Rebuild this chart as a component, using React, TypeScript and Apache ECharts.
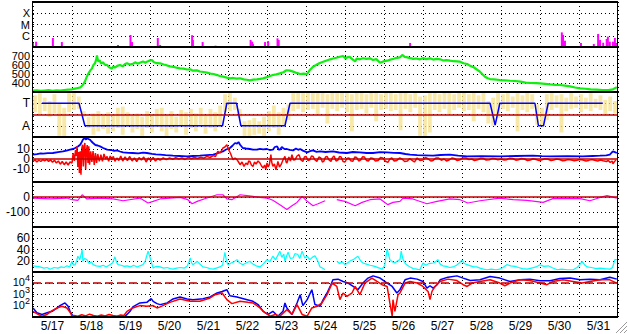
import React, { useEffect, useRef } from 'react';
import * as echarts from 'echarts';

// ---------- DATA ----------
const dayLabels = ['5/17', '5/18', '5/19', '5/20', '5/21', '5/22', '5/23', '5/24', '5/25', '5/26', '5/27', '5/28', '5/29', '5/30', '5/31'];
const xrayClassLabels: Record<number, string> = { 1: 'C', 2: 'M', 3: 'X' };
const speedTickLabels = [400, 500, 600, 700];
const bzTickLabels = [-10, 0, 10];
const dstTickLabels = [0, -100];
const kpTickLabels = [20, 40, 60];
const fluxTickExponents = [2, 3, 4];
const polarityLabels: Record<number, string> = { 1: 'T', [-1]: 'A' };

// X-ray flux, decades above 1e-7 W/m2 (1 = C class)
const xrayEvents = [
  [0.0, 0.36], [0.08, 0.47], [0.51, 0.8], [0.74, 0.44], [2.18, 0.18], [2.5, 1.07], [2.54, 0.44], [3.2, 0.8], [3.26, 0.18],
  [3.9, 0.09], [4.08, 1.05], [4.1, 0.62], [4.35, 0.44], [4.68, 0.12], [5.25, 0.09], [5.58, 0.62], [5.62, 0.47], [5.64, 0.27],
  [5.95, 0.44], [6.03, 0.53], [6.27, 0.77], [6.3, 0.62], [9.67, 0.36], [13.56, 1.3], [13.59, 1.07], [13.64, 0.56], [14.05, 0.36],
  [14.38, 0.27], [14.49, 1.16], [14.54, 0.62], [14.62, 0.38], [14.71, 0.71], [14.74, 0.92], [14.79, 0.47], [14.87, 0.47],
  [14.92, 0.8], [14.95, 0.36],
];

// Solar wind speed (km/s)
const windSpeed = [
  [0, 315], [0.1, 318], [0.2, 312], [0.3, 316], [0.4, 320], [0.5, 314], [0.6, 318], [0.7, 315], [0.8, 322], [0.9, 326], [1.0, 330],
  [1.08, 338], [1.15, 345], [1.22, 352], [1.28, 380], [1.33, 415], [1.38, 470], [1.42, 505], [1.47, 540], [1.51, 560], [1.55, 600],
  [1.59, 620], [1.62, 660], [1.64, 705], [1.67, 640], [1.71, 650], [1.75, 615], [1.79, 630], [1.84, 605], [1.9, 600], [1.95, 575],
  [2.02, 560], [2.06, 585], [2.1, 570], [2.16, 590], [2.23, 600], [2.3, 585], [2.36, 610], [2.41, 620], [2.48, 605], [2.56, 612],
  [2.62, 630], [2.68, 615], [2.74, 626], [2.82, 640], [2.88, 625], [2.92, 637], [2.98, 648], [3.05, 655], [3.1, 630], [3.18, 620],
  [3.26, 619], [3.35, 605], [3.42, 598], [3.51, 585], [3.6, 580], [3.68, 570], [3.77, 563], [3.86, 560], [3.95, 550], [4.03, 552],
  [4.1, 537], [4.2, 540], [4.28, 528], [4.37, 522], [4.46, 515], [4.55, 505], [4.63, 500], [4.72, 488], [4.79, 478], [4.88, 470],
  [4.97, 460], [5.05, 452], [5.13, 456], [5.22, 448], [5.31, 452], [5.4, 440], [5.48, 436], [5.56, 430], [5.65, 438], [5.74, 441],
  [5.82, 446], [5.9, 452], [5.98, 462], [6.06, 475], [6.15, 489], [6.24, 496], [6.33, 507], [6.42, 520], [6.5, 542], [6.59, 537],
  [6.67, 526], [6.76, 512], [6.85, 500], [6.94, 505], [7.03, 500], [7.1, 545], [7.18, 581], [7.26, 600], [7.34, 620], [7.44, 637],
  [7.53, 650], [7.62, 663], [7.7, 672], [7.78, 680], [7.87, 692], [7.95, 700], [8.02, 670], [8.05, 685], [8.12, 690], [8.2, 660],
  [8.26, 640], [8.3, 672], [8.38, 663], [8.46, 675], [8.55, 668], [8.64, 674], [8.72, 656], [8.8, 665], [8.9, 626], [8.98, 640],
  [9.08, 648], [9.16, 660], [9.25, 670], [9.33, 680], [9.41, 685], [9.47, 712], [9.53, 690], [9.6, 685], [9.67, 676], [9.75, 668],
  [9.83, 672], [9.92, 663], [10.0, 676], [10.08, 665], [10.18, 674], [10.26, 660], [10.35, 668], [10.44, 663], [10.52, 650],
  [10.6, 655], [10.69, 648], [10.78, 642], [10.87, 640], [10.95, 637], [11.04, 620], [11.13, 611], [11.21, 590], [11.3, 575],
  [11.38, 550], [11.46, 526], [11.53, 495], [11.59, 470], [11.66, 452], [11.72, 444], [11.82, 440], [11.97, 433], [12.1, 430],
  [12.23, 425], [12.36, 422], [12.5, 415], [12.63, 404], [12.76, 400], [12.9, 398], [13.0, 396], [13.13, 390], [13.26, 384],
  [13.4, 380], [13.51, 378], [13.64, 370], [13.77, 362], [13.9, 350], [14.03, 341], [14.16, 336], [14.3, 330], [14.45, 326],
  [14.6, 322], [14.75, 320], [14.87, 330], [14.97, 352],
];

// IMF polarity raw scatter: [day, low, high] (T = +1, A = -1)
const polarityScatter = [
  [0.0, 0.2, 1.7], [0.125, 0.0, 1.9], [0.25, 0.3, 1.5], [0.375, -0.2, 1.2], [0.5, 0.1, 1.8], [0.625, -1.9, 1.0], [0.75, -2.0, 0.6], [0.875, 0.2, 1.9],
  [1.0, 0.4, 1.9], [1.125, 0.5, 1.6], [1.25, -0.2, 0.3], [1.375, -1.2, -0.2], [1.5, -1.8, 0.1], [1.625, -1.5, 0.3], [1.75, -1.3, -0.1], [1.875, -1.7, 0.2],
  [2.0, -1.5, 0.0], [2.125, -1.2, 0.6], [2.25, -1.8, 0.7], [2.375, -1.0, 0.2], [2.5, -1.6, -0.1], [2.625, -1.3, 0.1], [2.75, -1.9, -0.2], [2.875, -1.2, 0.3],
  [3.0, -1.6, 0.0], [3.125, -1.1, 0.5], [3.25, -1.5, 0.6], [3.375, -1.9, -0.1], [3.5, -1.3, 0.3], [3.625, -1.6, -0.2], [3.75, -1.0, 0.4], [3.875, -1.8, 0.2],
  [4.0, -1.2, 0.5], [4.125, -1.5, 0.1], [4.25, -0.9, 0.6], [4.375, -1.7, -0.1], [4.5, -1.2, 0.5], [4.625, -1.5, 0.2], [4.75, -1.0, 0.8], [4.875, 0.2, 1.8],
  [5.0, 0.3, 1.9], [5.125, 0.4, 1.5], [5.25, -0.3, 0.5], [5.375, -1.9, -0.6], [5.5, -2.0, -0.5], [5.625, -1.8, -0.3], [5.75, -1.7, -0.6], [5.875, -1.9, -0.2],
  [6.0, -1.5, 0.3], [6.125, -1.2, 0.8], [6.25, -1.8, 0.2], [6.375, -1.0, 0.6], [6.5, -0.5, 0.9], [6.625, 0.3, 1.9], [6.75, 0.5, 2.0], [6.875, 0.2, 1.9],
  [7.0, 0.4, 2.0], [7.125, 0.5, 1.9], [7.25, 0.0, 2.0], [7.375, 0.6, 1.9], [7.5, -0.8, 1.8], [7.625, 0.5, 2.0], [7.75, 0.3, 1.9], [7.875, 0.6, 2.0],
  [8.0, 0.2, 1.9], [8.125, -1.5, 1.8], [8.25, 0.4, 2.0], [8.375, 0.5, 1.9], [8.5, 0.1, 1.8], [8.625, 0.6, 2.0], [8.75, -0.6, 1.9], [8.875, 0.4, 1.8],
  [9.0, 0.5, 2.0], [9.125, 0.3, 1.9], [9.25, 0.4, 1.8], [9.375, -1.4, 1.9], [9.5, 0.5, 2.0], [9.625, 0.2, 1.8], [9.75, 0.6, 1.9], [9.875, -1.9, 1.6],
  [10.0, -2.0, 1.7], [10.125, -1.6, 1.9], [10.25, 0.4, 1.9], [10.375, 0.2, 1.8], [10.5, 0.5, 2.0], [10.625, 0.0, 1.9], [10.75, 0.4, 1.8], [10.875, 0.6, 1.9],
  [11.0, 0.3, 2.0], [11.125, 0.4, 1.8], [11.25, -0.6, 1.9], [11.375, 0.5, 1.7], [11.5, 0.2, 1.9], [11.625, -0.8, 1.2], [11.75, -1.0, 1.5], [11.875, -0.3, 1.9],
  [12.0, 0.5, 1.8], [12.125, 0.3, 1.9], [12.25, 0.6, 1.6], [12.375, -1.5, 1.9], [12.5, 0.4, 1.7], [12.625, 0.2, 2.0], [12.75, 0.5, 1.8], [12.875, -0.9, 0.9],
  [13.0, -1.0, 0.6], [13.125, -0.5, 1.8], [13.25, 0.4, 1.9], [13.375, 0.6, 1.7], [13.5, -1.6, 1.8], [13.625, 0.3, 1.5], [13.75, 0.5, 1.9], [13.875, 0.6, 1.6],
  [14.0, 0.2, 1.8], [14.125, 0.5, 1.5], [14.25, 0.3, 1.9], [14.375, 0.6, 1.4], [14.5, 0.4, 1.7], [14.625, 0.0, 1.3], [14.75, 0.3, 1.6], [14.875, 0.1, 1.2],
];

// IMF polarity (smoothed)
const polarity = [
  [0.23, 1], [1.18, 1], [1.33, -1], [4.86, -1], [4.97, 1], [5.22, 1], [5.33, -1], [6.46, -1], [6.59, 1], [11.72, 1],
  [11.85, -0.95], [11.97, 1], [12.87, 1], [12.96, -1], [13.09, -1], [13.21, 1], [14.61, 1],
];

// |B| total (nT)
const bt = [
  [0, 4.3], [0.1, 4.8], [0.2, 5.6], [0.26, 5.3], [0.38, 5.8], [0.51, 6], [0.64, 6.8], [0.77, 7.6], [0.86, 8.4], [0.95, 9.3], [1.03, 10],
  [1.08, 11], [1.15, 12.5], [1.21, 14.3], [1.25, 17], [1.28, 19.3], [1.32, 21], [1.36, 19.5], [1.38, 21], [1.42, 20], [1.46, 19.3],
  [1.5, 17.5], [1.54, 16], [1.6, 14], [1.66, 13.5], [1.72, 12.6], [1.8, 11], [1.9, 9.3], [2.0, 9], [2.08, 8.2], [2.15, 8.6], [2.23, 7.5],
  [2.31, 6.6], [2.45, 6.2], [2.56, 6], [2.7, 5.6], [2.82, 6.4], [2.92, 6], [3.05, 5.2], [3.15, 4.6], [3.26, 4.3], [3.4, 3.8], [3.59, 3.3],
  [3.75, 3.0], [3.95, 2.6], [4.1, 3.0], [4.28, 3.3], [4.45, 3.8], [4.62, 4.3], [4.75, 6], [4.87, 7.6], [4.95, 9.5], [5.05, 11], [5.12, 13.5],
  [5.18, 16], [5.23, 15.3], [5.27, 17], [5.31, 14.3], [5.38, 11], [5.46, 10.5], [5.56, 10], [5.64, 9.3], [5.74, 9.3], [5.82, 10.2],
  [5.9, 9.6], [6.0, 10], [6.07, 9], [6.15, 9.3], [6.2, 12], [6.26, 12.6], [6.3, 9.5], [6.33, 9.3], [6.38, 12], [6.41, 11], [6.46, 9.8],
  [6.51, 10], [6.58, 9.2], [6.67, 8.6], [6.74, 10.5], [6.8, 9.2], [6.85, 10], [6.92, 8.4], [7.03, 6.6], [7.1, 7.8], [7.18, 8.6], [7.27, 7.2],
  [7.36, 7.6], [7.5, 7.0], [7.69, 7.6], [7.85, 6.5], [8.05, 6], [8.2, 7.0], [8.38, 6.6], [8.55, 6.0], [8.72, 6], [8.9, 6.8], [9.08, 6.6],
  [9.25, 6.2], [9.41, 6], [9.55, 5.0], [9.67, 4.3], [9.85, 3.8], [10.05, 3.6], [10.26, 3.3], [10.45, 4.0], [10.69, 4.3], [10.9, 3.3],
  [11.13, 2.6], [11.5, 2.8], [11.97, 2.6], [12.4, 3.0], [12.82, 3.3], [13.05, 2.8], [13.26, 2.6], [13.7, 2.8], [14.1, 2.6], [14.35, 3.0],
  [14.54, 3.3], [14.7, 3.6], [14.79, 4.3], [14.84, 6.5], [14.87, 7.6], [14.92, 6.8], [14.97, 6],
];

// Bz (nT)
const bz = [
  [0, -2.4], [0.05, -0.7], [0.1, -3], [0.15, -1], [0.2, -2.5], [0.25, -0.7], [0.3, -1.8], [0.35, -0.5], [0.4, -2.4], [0.45, -0.8], [0.5, -3.2],
  [0.55, -1.2], [0.6, -4], [0.65, -2], [0.7, -5.2], [0.75, -2.5], [0.8, -5.7], [0.85, -3], [0.9, -6], [0.95, -2.8], [1.0, -4], [1.03, 6],
  [1.06, -2], [1.09, 9], [1.11, 3], [1.13, 12.6], [1.15, -8], [1.17, 7], [1.19, -14], [1.21, 7.6], [1.23, -15.7], [1.25, 10], [1.27, 14.3],
  [1.29, -7.4], [1.31, 12], [1.33, 16], [1.35, -10.7], [1.37, 8], [1.39, 14], [1.41, -4], [1.43, 12.6], [1.45, -5.7], [1.48, 7.6], [1.51, -3],
  [1.54, 8], [1.57, -6], [1.6, 6], [1.63, -4], [1.66, 5], [1.7, -2.4], [1.74, 4.3], [1.78, -2.4], [1.82, 5], [1.86, 0], [1.9, 2.6],
  [1.94, -2.4], [1.98, 3], [2.02, -1], [2.06, 2.6], [2.1, -2.4], [2.15, 1], [2.2, -1.5], [2.25, 3], [2.3, -2], [2.36, 2], [2.42, -1.5],
  [2.48, 2.5], [2.54, -2], [2.6, 1], [2.66, -2.6], [2.72, 1.5], [2.78, -1], [2.84, 2], [2.9, -3], [2.96, 1], [3.02, -1.5], [3.08, 1.5],
  [3.14, -2], [3.2, 0.5], [3.26, -1], [3.34, 1], [3.42, -0.7], [3.5, 1], [3.58, -0.3], [3.66, 1.2], [3.74, 0], [3.82, 1], [3.9, -0.5],
  [3.98, 1.6], [4.06, 0.2], [4.14, 1.5], [4.22, 0.5], [4.3, 1.8], [4.38, 0.8], [4.46, 2.6], [4.54, 1.5], [4.62, 3.5], [4.68, 2.5],
  [4.74, 7.6], [4.8, 6], [4.87, 11], [4.92, 12], [4.97, 14.3], [5.02, 9], [5.06, 6], [5.1, 2], [5.13, -0.7], [5.18, 1], [5.23, -0.7],
  [5.27, -3], [5.31, -5.7], [5.36, -3], [5.41, -7.4], [5.46, -4], [5.5, -5.7], [5.53, -2], [5.56, -2.4], [5.6, -6], [5.64, -7.4],
  [5.68, -3], [5.72, -5], [5.77, -2], [5.82, -4], [5.86, -7], [5.9, -9], [5.94, -6], [5.97, -10.7], [6.0, -4], [6.03, -8], [6.06, -5.7],
  [6.1, 4.3], [6.12, -3], [6.15, -7.4], [6.19, -5], [6.23, -10.7], [6.26, -6], [6.28, -2.4], [6.32, -8], [6.36, -5.7], [6.41, -1],
  [6.46, 2.6], [6.49, -3], [6.51, -4], [6.56, 2], [6.6, -2], [6.64, 4.3], [6.68, -1], [6.72, -0.7], [6.77, 3], [6.82, 4.3], [6.87, -1],
  [6.92, -2.4], [6.96, 2], [7.0, 2.6], [7.05, -1.5], [7.1, -0.7], [7.14, 3], [7.18, 2.6], [7.23, -1], [7.28, -2.4], [7.33, 2], [7.38, 1],
  [7.42, -3], [7.46, -2], [7.5, 2], [7.54, 2.6], [7.59, -1], [7.64, -2.4], [7.68, 1.5], [7.72, 3], [7.77, -2], [7.82, -1], [7.86, 2.5],
  [7.9, 2], [7.95, -2.5], [8.0, -3], [8.05, 0.5], [8.1, 1], [8.15, -1.8], [8.2, -2.4], [8.25, 2], [8.3, 1.5], [8.35, -2], [8.4, -1],
  [8.45, 2.2], [8.5, 2], [8.55, -1.5], [8.6, -2], [8.66, 1], [8.72, 0.5], [8.78, -2], [8.85, -1.5], [8.91, 1.5], [8.97, 1], [9.03, -2],
  [9.1, -3.4], [9.15, 0], [9.2, 1], [9.26, -2], [9.33, -1.4], [9.4, 1], [9.46, 0], [9.53, -2.5], [9.6, -2], [9.66, 0.5], [9.72, -1.4],
  [9.78, -3], [9.85, 1], [9.92, -1.5], [10.0, -1], [10.06, 1.5], [10.13, 0.3], [10.2, -2], [10.26, -1.4], [10.33, 1], [10.4, 1],
  [10.47, -1.2], [10.54, 0], [10.6, -2], [10.67, -1], [10.74, 1], [10.8, 0.5], [10.88, -1.5], [10.95, -0.7], [11.02, 1], [11.1, 1],
  [11.18, -0.5], [11.25, 0], [11.32, -1.5], [11.4, -0.7], [11.48, 0.8], [11.55, 0.5], [11.62, -1], [11.7, -0.7], [11.78, 0.6],
  [11.85, 0.3], [11.92, -0.8], [12.0, 0], [12.08, -1], [12.15, -0.7], [12.22, 0.8], [12.3, 0.5], [12.38, -1.2], [12.45, -0.7],
  [12.52, 0.5], [12.6, 0], [12.68, -1.5], [12.75, -1], [12.82, 0.2], [12.9, -0.5], [12.98, -1.6], [13.05, -0.7], [13.12, 0.3], [13.2, 0],
  [13.28, -1.5], [13.35, -1], [13.42, 0], [13.5, -0.5], [13.58, -1.8], [13.65, -1.4], [13.72, -0.5], [13.8, -1], [13.88, -1.8],
  [13.95, -1.2], [14.02, -0.5], [14.1, -1], [14.18, -2], [14.25, -1.4], [14.32, -0.6], [14.4, -1.2], [14.48, -2], [14.55, -1],
  [14.62, -1.8], [14.7, -2.5], [14.75, -1.5], [14.8, -3.4], [14.85, -2], [14.87, -4.7], [14.91, -2.5], [14.95, -1],
];

// Dst (nT)
const dst = [
  [0, -7], [0.44, -13], [0.87, -7], [1.0, -18], [1.15, -22], [1.26, 15], [1.38, -13], [1.72, -7], [2.05, -13], [2.31, -25], [2.74, -7],
  [2.95, -40], [3.08, -29], [3.26, -13], [3.77, -3], [3.97, -18], [4.08, -45], [4.21, -29], [4.46, -7], [4.72, 15], [4.87, 15],
  [4.97, -13], [5.1, -18], [5.31, 15], [5.49, 9], [5.64, 4], [5.82, -3], [6.0, -7], [6.15, -22], [6.33, -51], [6.51, -84], [6.64, -58],
  [6.77, -36], [6.9, 4], [7.03, -29], [7.18, -58], [7.31, -45], [7.49, -25], [7.6, '-'], [7.79, -18], [8.0, -29], [8.26, -58],
  [8.44, -36], [8.64, -18], [8.9, -13], [9.1, -51], [9.23, -36], [9.41, -29], [9.49, -7], [9.74, -13], [10.1, -45], [10.36, -29],
  [10.69, -13], [10.95, -18], [11.15, -40], [11.46, -25], [11.97, -7], [12.31, -18], [12.67, -22], [13.08, -36], [13.33, -11],
  [14.03, -11], [14.28, -25], [14.54, -3], [14.72, 9], [14.97, -7],
];

// Geomagnetic index (cyan)
const geoIndex = [
  [0, 11], [0.09, 10], [0.18, 9], [0.28, 7], [0.36, 8], [0.44, 5], [0.54, 8], [0.64, 7], [0.72, 9], [0.8, 8], [0.87, 11], [0.94, 9],
  [1.0, 19], [1.04, 12], [1.08, 13], [1.12, 20], [1.15, 28], [1.2, 22], [1.24, 33], [1.26, 40], [1.28, 19], [1.32, 24], [1.38, 22],
  [1.44, 15], [1.5, 18], [1.54, 13], [1.62, 11], [1.72, 10], [1.8, 12], [1.88, 9], [1.97, 13], [2.04, 16], [2.1, 27], [2.14, 18],
  [2.18, 13], [2.26, 12], [2.34, 10], [2.41, 11], [2.5, 9], [2.58, 12], [2.67, 9], [2.74, 11], [2.82, 13], [2.88, 20], [2.95, 37],
  [2.99, 28], [3.03, 19], [3.08, 7], [3.16, 10], [3.26, 9], [3.35, 7], [3.44, 8], [3.52, 6], [3.59, 5], [3.68, 7], [3.78, 8], [3.88, 7],
  [3.95, 10], [4.0, 18], [4.03, 25], [4.07, 16], [4.1, 13], [4.16, 16], [4.21, 19], [4.28, 14], [4.36, 9], [4.45, 8], [4.54, 6],
  [4.62, 5], [4.7, 7], [4.79, 9], [4.86, 12], [4.92, 35], [4.96, 20], [5.0, 13], [5.08, 16], [5.15, 18], [5.23, 22], [5.3, 16],
  [5.38, 13], [5.46, 16], [5.56, 19], [5.64, 14], [5.72, 11], [5.82, 9], [5.9, 14], [6.0, 22], [6.07, 18], [6.15, 28], [6.22, 22],
  [6.28, 30], [6.33, 37], [6.38, 26], [6.43, 32], [6.46, 19], [6.5, 28], [6.54, 35], [6.6, 24], [6.67, 25], [6.72, 33], [6.79, 31],
  [6.84, 24], [6.9, 37], [6.94, 30], [6.97, 25], [7.03, 28], [7.1, 22], [7.16, 26], [7.23, 29], [7.3, 20], [7.36, 9], [7.42, 7],
  [7.49, 4], [7.6, '-'], [7.79, 19], [7.86, 15], [7.93, 18], [8.0, 13], [8.08, 17], [8.14, 20], [8.21, 22], [8.27, 25], [8.33, 28],
  [8.4, 20], [8.46, 16], [8.55, 14], [8.64, 12], [8.72, 11], [8.8, 9], [8.88, 7], [8.95, 5], [9.02, 12], [9.08, 41], [9.12, 30],
  [9.15, 22], [9.22, 18], [9.28, 16], [9.35, 20], [9.41, 22], [9.44, 37], [9.49, 22], [9.56, 14], [9.62, 11], [9.67, 9], [9.75, 6],
  [9.84, 5], [9.92, 4], [10.0, 16], [10.08, 12], [10.15, 15], [10.26, 16], [10.32, 18], [10.38, 22], [10.44, 14], [10.51, 11],
  [10.6, 10], [10.68, 8], [10.77, 9], [10.86, 12], [10.93, 16], [11.0, 21], [11.06, 15], [11.13, 13], [11.22, 11], [11.3, 9],
  [11.38, 9], [11.46, 7], [11.55, 5], [11.64, 4], [11.75, 5], [11.87, 4], [11.97, 5], [12.05, 8], [12.15, 13], [12.25, 11], [12.36, 10],
  [12.45, 8], [12.55, 6], [12.67, 5], [12.78, 7], [12.9, 9], [13.0, 13], [13.1, 10], [13.21, 11], [13.3, 8], [13.44, 4], [13.55, 5],
  [13.7, 4], [13.85, 4], [13.95, 8], [14.03, 14], [14.08, 19], [14.14, 13], [14.21, 9], [14.32, 8], [14.44, 6], [14.54, 7], [14.66, 6],
  [14.79, 5], [14.86, 8], [14.92, 22], [14.97, 22],
];

// Particle flux, channel 1 (blue)
const fluxBlue = [
  [0, 72], [0.1, 28], [0.23, 20], [0.36, 28], [0.49, 37], [0.62, 72], [0.69, 115], [0.82, 195], [0.9, 100], [0.95, 37], [1.0, 20],
  [1.03, 14], [1.1, 13], [1.5, 12.5], [2.0, 13], [2.35, 13], [2.41, 20], [2.49, 37], [2.56, 89], [2.74, 195], [2.92, 219], [3.03, 457],
  [3.08, 269], [3.18, 170], [3.26, 140], [3.44, 195], [3.59, 427], [3.77, 631], [3.95, 427], [4.1, 372], [4.36, 457], [4.54, 631],
  [4.72, 1413], [4.85, 1905], [4.97, 2692], [5.05, 813], [5.23, 631], [5.49, 372], [5.64, 269], [5.77, 141], [5.9, 37], [6.03, 20],
  [6.15, 37], [6.28, 14], [6.41, 37], [6.46, 195], [6.51, 72], [6.64, 20], [6.77, 195], [6.85, 1000], [6.92, 115], [7.03, 372],
  [7.15, 2692], [7.23, 141], [7.36, 100], [7.44, 372], [7.54, 1413], [7.62, 5129], [7.69, 19055], [7.82, 21878], [7.95, 13804],
  [8.08, 10000], [8.21, 5129], [8.33, 2692], [8.46, 10000], [8.59, 26915], [8.72, 41687], [8.9, 26915], [9.08, 10000], [9.21, 5129],
  [9.33, 1413], [9.41, 2692], [9.54, 19055], [9.67, 26915], [9.85, 21878], [10.0, 13804], [10.1, 3715], [10.18, 5888], [10.26, 3715],
  [10.36, 7244], [10.44, 19055], [10.64, 32359], [10.87, 41687], [11.03, 26915], [11.21, 16596], [11.46, 19055], [11.72, 36308],
  [11.97, 26915], [12.23, 13804], [12.49, 19055], [12.74, 21878], [13.0, 15849], [13.26, 15849], [13.51, 25119], [13.77, 26915],
  [14.03, 19055], [14.28, 21878], [14.54, 19055], [14.79, 32359], [14.97, 21878],
];

// Particle flux, channel 2 (red)
const fluxRed = [
  [0, 37], [0.13, 20], [0.23, 14], [0.36, 20], [0.49, 43], [0.62, 72], [0.74, 100], [0.87, 72], [0.95, 31], [1.0, 14], [1.05, 16],
  [1.15, 14], [1.25, 19], [1.35, 15], [1.45, 21], [1.55, 16], [1.65, 14], [1.75, 18], [1.85, 15], [1.95, 20], [2.05, 16], [2.15, 14],
  [2.25, 18], [2.33, 16], [2.41, 37], [2.56, 72], [2.74, 115], [2.92, 100], [3.08, 115], [3.18, 72], [3.26, 90], [3.51, 219],
  [3.77, 427], [4.03, 269], [4.28, 269], [4.54, 525], [4.67, 1000], [4.85, 1413], [4.97, 372], [5.1, 170], [5.31, 269], [5.51, 219],
  [5.64, 195], [5.82, 72], [5.95, 28], [6.08, 14], [6.21, 20], [6.33, 14], [6.51, 52], [6.64, 20], [6.77, 141], [6.9, 20], [7.03, 14],
  [7.15, 72], [7.28, 100], [7.41, 195], [7.54, 1000], [7.67, 10000], [7.79, 5129], [7.87, 372], [7.95, 1413], [8.05, 724],
  [8.18, 1413], [8.26, 5129], [8.38, 1000], [8.51, 10000], [8.69, 26915], [8.82, 13804], [8.95, 7244], [9.08, 5129], [9.15, 195],
  [9.21, 14], [9.23, 372], [9.28, 37], [9.36, 1000], [9.41, 1413], [9.54, 10000], [9.67, 13804], [9.85, 10000], [10.0, 5129],
  [10.13, 1905], [10.18, 372], [10.23, 1905], [10.31, 5129], [10.44, 13804], [10.64, 21878], [10.87, 16596], [11.03, 7244],
  [11.13, 5129], [11.26, 10000], [11.46, 13804], [11.72, 19055], [11.97, 10000], [12.1, 5888], [12.23, 10000], [12.49, 19055],
  [12.74, 16596], [13.0, 10000], [13.18, 7244], [13.33, 13804], [13.59, 19055], [13.85, 13804], [14.08, 10000], [14.28, 13804],
  [14.54, 19055], [14.79, 19055], [14.97, 10000],
];

// ---------- LAYOUT ----------
const W = 628;
const H = 334;
const PLOT_L = 33;
const PLOT_R = 618;
const PLOT_T = 2;
const PANEL_H = 45;
const NPANEL = 7;
const FONT = "'Liberation Sans', Arial, Helvetica, sans-serif";

const dotted = { color: '#000', width: 1, type: [1, 3] as number[] };

function buildOption() {
  const grids = [];
  const xAxes: any[] = [];
  for (let i = 0; i < NPANEL; i++) {
    grids.push({ left: PLOT_L, top: PLOT_T + i * PANEL_H, width: PLOT_R - PLOT_L, height: PANEL_H, show: false });
    xAxes.push({
      type: 'value', gridIndex: i, min: 0, max: 15, interval: 1, position: i === NPANEL - 1 ? 'top' : 'bottom',
      axisLine: { show: false }, axisTick: { show: false }, axisLabel: { show: false },
      splitLine: { show: true, lineStyle: dotted },
    });
  }
  xAxes.push({
    type: 'value', gridIndex: NPANEL - 1, min: -0.5, max: 14.5, interval: 0.5, position: 'bottom',
    axisLine: { show: false }, axisTick: { show: false }, splitLine: { show: false },
    axisLabel: {
      show: true, color: '#000', fontSize: 12, fontFamily: FONT, margin: 3,
      formatter: (v: number) => (Number.isInteger(v) && v >= 0 && v < dayLabels.length ? dayLabels[v] : ''),
    },
  });

  const baseY = (i: number, extra: any) => ({
    gridIndex: i,
    axisLine: { show: false }, axisTick: { show: false },
    splitLine: { show: true, lineStyle: dotted },
    ...extra,
    axisLabel: { color: '#000', fontSize: 12, lineHeight: 9, fontFamily: FONT, margin: 3, ...(extra.axisLabel || {}) },
  });

  const yAxes = [
    baseY(0, { type: 'value', min: 0, max: 4, interval: 1, axisLabel: { fontSize: 11, formatter: (v: number) => xrayClassLabels[v] || '' } }),
    baseY(1, { type: 'value', min: 300, max: 800, interval: 100, axisLabel: { fontSize: 11, formatter: (v: number) => (speedTickLabels.includes(v) ? String(v) : '') } }),
    baseY(2, { type: 'value', min: -2, max: 2, interval: 1, axisLabel: { formatter: (v: number) => polarityLabels[v] || '' } }),
    baseY(3, { type: 'value', min: -23, max: 22, interval: 1, splitLine: { show: false }, axisLabel: { formatter: (v: number) => (bzTickLabels.includes(v) ? String(v) : '') } }),
    baseY(4, { type: 'value', min: -200, max: 100, interval: 100, axisLabel: { formatter: (v: number) => (dstTickLabels.includes(v) ? String(v) : '') } }),
    baseY(5, { type: 'value', min: 0, max: 80, interval: 20, axisLabel: { formatter: (v: number) => (kpTickLabels.includes(v) ? String(v) : '') } }),
    baseY(6, {
      type: 'log', min: 12, max: 90000, logBase: 10,
      axisLabel: {
        formatter: (v: number) => {
          const e = Math.round(Math.log10(v));
          if (Math.abs(Math.log10(v) - e) > 1e-6 || !fluxTickExponents.includes(e)) return '';
          return `{b|10}{s|${e}}`;
        },
        rich: {
          b: { fontSize: 11, lineHeight: 9, fontFamily: FONT, color: '#000', verticalAlign: 'bottom' },
          s: { fontSize: 9, lineHeight: 9, fontFamily: FONT, color: '#000', verticalAlign: 'bottom', padding: [0, 0, 5, 0] },
        },
      },
    }),
  ];

  const zeroLine = () => ({
    silent: true, symbol: 'none', animation: false, label: { show: false },
    lineStyle: { color: '#c00000', width: 1.5, type: 'solid' },
    data: [{ yAxis: 0 }],
  });

  const lineBase = { type: 'line', symbol: 'none', showSymbol: false, connectNulls: false, animation: false };

  const series: any[] = [
    { type: 'bar', name: 'X-ray', xAxisIndex: 0, yAxisIndex: 0, data: xrayEvents, barWidth: 2, itemStyle: { color: '#ff00ff' }, animation: false },
    { ...lineBase, name: 'Speed', xAxisIndex: 1, yAxisIndex: 1, data: windSpeed, lineStyle: { color: '#11ee11', width: 2.2 } },
    {
      type: 'custom', name: 'Polarity raw', xAxisIndex: 2, yAxisIndex: 2, data: polarityScatter,
      encode: { x: 0, y: [1, 2] }, animation: false,
      renderItem: (params: any, api: any) => {
        const d = api.value(0);
        const p1 = api.coord([d, api.value(2)]);
        const p2 = api.coord([d, api.value(1)]);
        const w = api.size([0.125, 0])[0];
        return {
          type: 'rect',
          shape: { x: p1[0], y: p1[1], width: w * 0.8, height: p2[1] - p1[1] },
          style: { fill: '#f6e28c', opacity: 0.75 },
        };
      },
    },
    {
      ...lineBase, name: 'Polarity', xAxisIndex: 2, yAxisIndex: 2, data: polarity, z: 4,
      lineStyle: { color: '#0000ff', width: 1.5 }, markLine: zeroLine(),
    },
    { ...lineBase, name: 'Bt', xAxisIndex: 3, yAxisIndex: 3, data: bt, lineStyle: { color: '#0000ff', width: 1.8 } },
    {
      ...lineBase, name: 'Bz', xAxisIndex: 3, yAxisIndex: 3, data: bz, lineStyle: { color: '#ff0000', width: 1.5 },
      markLine: {
        silent: true, symbol: 'none', animation: false, label: { show: false },
        data: [
          { yAxis: 0, lineStyle: { color: '#c00000', width: 1.5, type: 'solid' } },
          { yAxis: 10, lineStyle: dotted },
          { yAxis: -10, lineStyle: dotted },
        ],
      },
    },
    { ...lineBase, name: 'Dst', xAxisIndex: 4, yAxisIndex: 4, data: dst, lineStyle: { color: '#ff00ff', width: 1.2 }, markLine: zeroLine() },
    { ...lineBase, name: 'Index', xAxisIndex: 5, yAxisIndex: 5, data: geoIndex, lineStyle: { color: '#00ffff', width: 1.2 } },
    { ...lineBase, name: 'Flux blue', xAxisIndex: 6, yAxisIndex: 6, data: fluxBlue, lineStyle: { color: '#0000ff', width: 1.5 } },
    {
      ...lineBase, name: 'Flux red', xAxisIndex: 6, yAxisIndex: 6, data: fluxRed, lineStyle: { color: '#ff0000', width: 1.5 },
      markLine: {
        silent: true, symbol: 'none', animation: false, label: { show: false },
        lineStyle: { color: '#c00000', width: 1.5, type: [8, 4] },
        data: [{ yAxis: 10000 }],
      },
    },
  ];

  const graphics: any[] = [];
  for (let i = 0; i <= NPANEL; i++) {
    const y = PLOT_T + i * PANEL_H;
    graphics.push({ type: 'line', z: 100, silent: true, shape: { x1: PLOT_L - 1, y1: y, x2: PLOT_R, y2: y }, style: { stroke: '#000', lineWidth: 2 } });
  }
  graphics.push({ type: 'line', z: 100, silent: true, shape: { x1: PLOT_L - 0.5, y1: PLOT_T, x2: PLOT_L - 0.5, y2: PLOT_T + NPANEL * PANEL_H }, style: { stroke: '#000', lineWidth: 1 } });
  graphics.push({ type: 'line', z: 100, silent: true, shape: { x1: PLOT_R - 0.5, y1: PLOT_T, x2: PLOT_R - 0.5, y2: PLOT_T + NPANEL * PANEL_H }, style: { stroke: '#000', lineWidth: 1 } });
  // window resize grip
  [[616, 333, 627, 322], [620, 333, 627, 326], [624, 333, 627, 330]].forEach(([x1, y1, x2, y2]) => {
    graphics.push({ type: 'line', z: 100, silent: true, shape: { x1, y1, x2, y2 }, style: { stroke: '#9a9a9a', lineWidth: 1 } });
    graphics.push({ type: 'line', z: 100, silent: true, shape: { x1: x1 + 1, y1, x2, y2: y2 + 1 }, style: { stroke: '#ffffff', lineWidth: 1 } });
  });

  return {
    animation: false,
    backgroundColor: '#ffffff',
    textStyle: { fontFamily: FONT },
    grid: grids,
    xAxis: xAxes,
    yAxis: yAxes,
    series,
    graphic: graphics,
  };
}

export default function App() {
  const ref = useRef<HTMLDivElement>(null);
  useEffect(() => {
    if (!ref.current) return;
    const chart = echarts.init(ref.current, null, { renderer: 'svg', width: W, height: H });
    chart.setOption(buildOption() as any);
    return () => chart.dispose();
  }, []);
  return <div ref={ref} style={{ position: 'fixed', left: 0, top: 0, width: W, height: H, background: '#fff' }} />;
}
